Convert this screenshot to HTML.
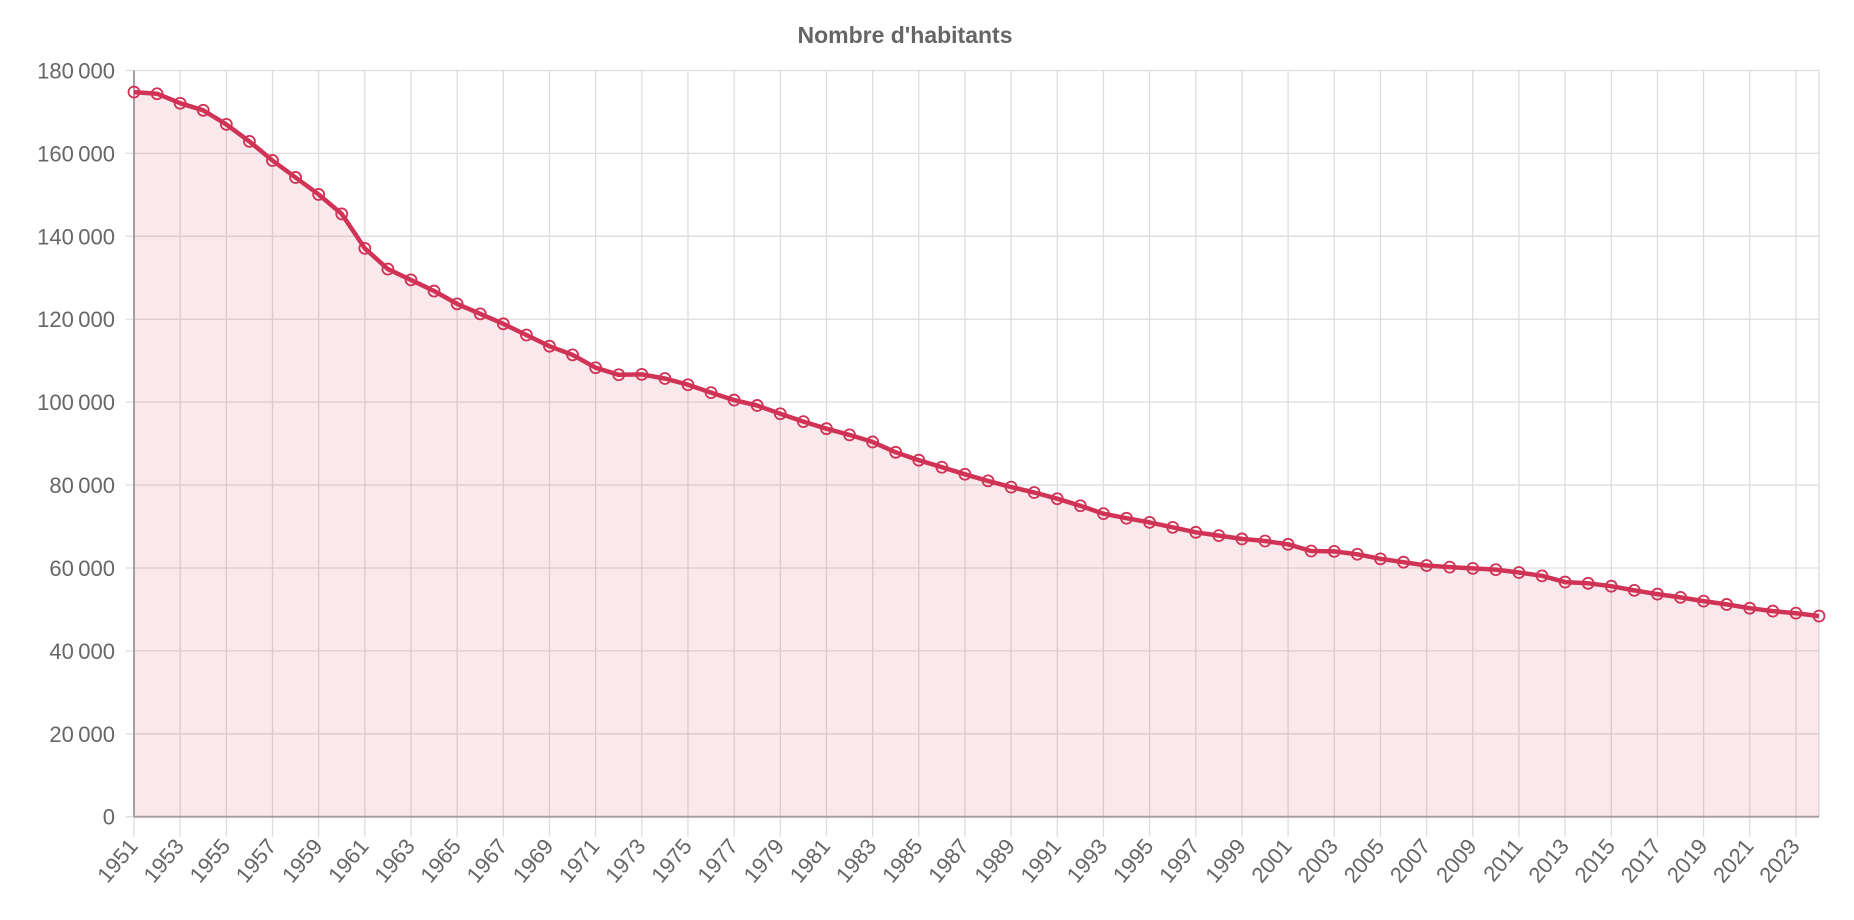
<!DOCTYPE html>
<html><head><meta charset="utf-8"><style>
html,body{margin:0;padding:0;background:#fff;}
svg{display:block;font-family:"Liberation Sans",Arial,sans-serif;}
</style></head><body>
<svg id="c" width="1854" height="920" xmlns="http://www.w3.org/2000/svg"></svg>
<script>
const d=[174800,174400,172100,170400,167000,162900,158300,154200,150100,145400,137100,132100,129500,126800,123700,121300,118900,116200,113500,111400,108300,106600,106700,105700,104200,102300,100500,99200,97200,95300,93600,92100,90400,87900,86000,84300,82600,81000,79500,78200,76700,75000,73100,72000,71000,69800,68600,67800,67000,66500,65700,64100,64000,63300,62200,61400,60600,60200,59900,59600,58900,58100,56600,56300,55600,54600,53700,52900,52000,51200,50300,49600,49100,48400];
const L=134,R=1819,T=70.5,B=816.7;
const X=i=>L+(R-L)*i/73, Y=v=>B-(B-T)*v/180000;
let s='';
s+='<text x="905" y="43" text-anchor="middle" font-size="23" font-weight="bold" fill="#666">Nombre d\'habitants</text>';
for(let k=0;k<=9;k++){const y=Y(k*20000);
 s+=`<line x1="${L-8}" x2="${R}" y1="${y}" y2="${y}" stroke="#ddd" stroke-width="1.3"/>`;
 s+=`<text x="${L-19}" y="${y+8}" text-anchor="end" font-size="22" fill="#666">${k==0?'0':(k*20)+'\u2009000'}</text>`;}
for(let i=0;i<74;i+=2){const x=X(i);
 s+=`<line x1="${x}" x2="${x}" y1="${T}" y2="${B+20}" stroke="#ddd" stroke-width="1.3"/>`;
 s+=`<text transform="translate(${x+5},${B+30}) rotate(-50)" text-anchor="end" font-size="22" fill="#666">${1951+i}</text>`;}
s+=`<line x1="${R}" x2="${R}" y1="${T}" y2="${B}" stroke="#ddd" stroke-width="1.3"/>`;
let p=d.map((v,i)=>X(i).toFixed(1)+','+Y(v).toFixed(1)).join(' ');
s+=`<polygon points="${L},${B} ${p} ${R},${B}" fill="rgba(200,40,70,0.1)"/>`;
s+=`<line x1="${L}" x2="${L}" y1="${T}" y2="${B}" stroke="#a89ea2" stroke-width="2"/>`;
s+=`<line x1="${L}" x2="${R}" y1="${B}" y2="${B}" stroke="#a89ea2" stroke-width="2"/>`;
s+=`<polyline points="${p}" fill="none" stroke="#d03356" stroke-width="4.5" stroke-linejoin="round"/>`;
d.forEach((v,i)=>{s+=`<circle cx="${X(i)}" cy="${Y(v)}" r="5.5" fill="none" stroke="#d03356" stroke-width="1.8"/>`;});
document.getElementById('c').innerHTML=s;
</script>
</body></html>
